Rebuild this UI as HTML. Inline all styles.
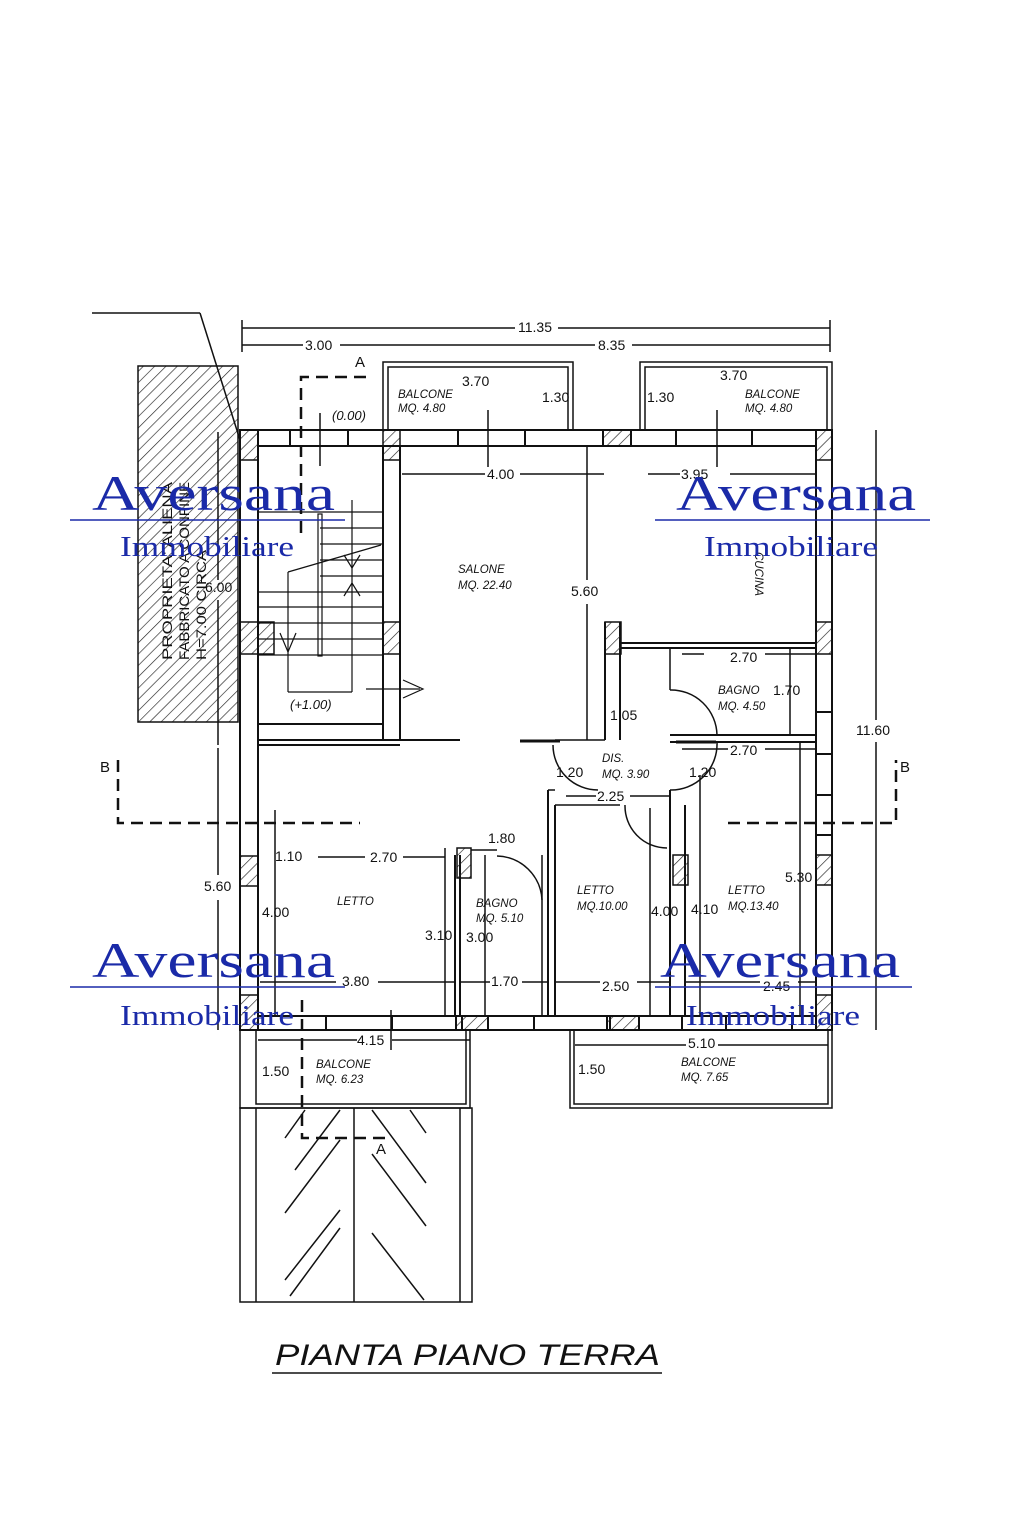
<!DOCTYPE html>
<html><head><meta charset="utf-8"><style>
html,body{margin:0;padding:0;background:#fff}
svg{display:block}
.t{font-family:"Liberation Sans",sans-serif;fill:#111}
.i{font-family:"Liberation Sans",sans-serif;font-style:italic;fill:#111}
.w{font-family:"Liberation Serif",serif;fill:#1a2aa8}
</style></head><body>
<svg width="1024" height="1536" viewBox="0 0 1024 1536" xmlns="http://www.w3.org/2000/svg">
<defs>
<pattern id="h" width="8" height="8" patternUnits="userSpaceOnUse" patternTransform="rotate(45)"><line x1="0" y1="0" x2="0" y2="8" stroke="#222" stroke-width="1.3"/></pattern>
</defs>
<g stroke="#111" fill="none" stroke-width="1.5">
<rect x="138" y="366" width="100" height="356" fill="url(#h)"/>
<line x1="92" y1="313" x2="200" y2="313"/><line x1="200" y1="313" x2="240" y2="440"/>
<line x1="242" y1="320" x2="242" y2="352"/><line x1="830" y1="320" x2="830" y2="352"/>
<line x1="242" y1="328" x2="515" y2="328"/><line x1="558" y1="328" x2="830" y2="328"/>
<line x1="242" y1="345" x2="303" y2="345"/><line x1="340" y1="345" x2="400" y2="345"/>
<line x1="400" y1="345" x2="595" y2="345"/><line x1="632" y1="345" x2="830" y2="345"/>
<rect x="240" y="430" width="18" height="600" stroke-width="2"/>
<rect x="816" y="430" width="16" height="600" stroke-width="2"/>
<line x1="240" y1="430" x2="832" y2="430" stroke-width="2"/>
<line x1="258" y1="446" x2="816" y2="446" stroke-width="2"/>
<line x1="240" y1="1030" x2="832" y2="1030" stroke-width="2"/>
<line x1="258" y1="1016" x2="816" y2="1016" stroke-width="2"/>
<rect x="258" y="430" width="32" height="16" fill="#fff" stroke-width="2"/>
<rect x="348" y="430" width="110" height="16" fill="#fff" stroke-width="2"/>
<rect x="525" y="430" width="78" height="16" fill="#fff" stroke-width="2"/>
<rect x="603" y="430" width="28" height="16" fill="url(#h)" stroke-width="2"/>
<rect x="631" y="430" width="45" height="16" fill="#fff" stroke-width="2"/>
<rect x="752" y="430" width="64" height="16" fill="#fff" stroke-width="2"/>
<rect x="383" y="430" width="17" height="30" fill="url(#h)"/>
<rect x="240" y="430" width="18" height="30" fill="url(#h)"/>
<rect x="816" y="430" width="16" height="30" fill="url(#h)"/>
<rect x="258" y="1016" width="68" height="14" fill="#fff" stroke-width="2"/>
<rect x="392" y="1016" width="70" height="14" fill="#fff" stroke-width="2"/>
<rect x="456" y="1016" width="32" height="14" fill="url(#h)" stroke-width="2"/>
<rect x="534" y="1016" width="76" height="14" fill="#fff" stroke-width="2"/>
<rect x="607" y="1016" width="32" height="14" fill="url(#h)" stroke-width="2"/>
<rect x="682" y="1016" width="44" height="14" fill="#fff" stroke-width="2"/>
<rect x="792" y="1016" width="24" height="14" fill="#fff" stroke-width="2"/>
<rect x="240" y="995" width="18" height="35" fill="url(#h)"/>
<rect x="816" y="995" width="16" height="35" fill="url(#h)"/>
<rect x="240" y="622" width="18" height="32" fill="url(#h)"/>
<rect x="240" y="856" width="18" height="30" fill="url(#h)"/>
<rect x="816" y="622" width="16" height="32" fill="url(#h)"/>
<rect x="816" y="855" width="16" height="30" fill="url(#h)"/>
<rect x="816" y="712" width="16" height="42" fill="#fff" stroke-width="2"/>
<rect x="816" y="795" width="16" height="40" fill="#fff" stroke-width="2"/>
<rect x="258" y="446" width="125" height="278" stroke-width="2"/>
<rect x="383" y="446" width="17" height="294" stroke-width="2"/>
<rect x="383" y="622" width="17" height="32" fill="url(#h)"/>
<rect x="258" y="622" width="16" height="32" fill="url(#h)"/>
<g stroke-width="1.2">
<line x1="258" y1="512" x2="383" y2="512"/><line x1="320" y1="528" x2="383" y2="528"/><line x1="320" y1="544" x2="383" y2="544"/><line x1="320" y1="560" x2="383" y2="560"/><line x1="320" y1="576" x2="383" y2="576"/>
<line x1="258" y1="592" x2="383" y2="592"/><line x1="258" y1="607" x2="383" y2="607"/><line x1="258" y1="623" x2="383" y2="623"/><line x1="258" y1="639" x2="383" y2="639"/><line x1="258" y1="655" x2="383" y2="655"/>
<rect x="318" y="514" width="4" height="142"/>
<line x1="352" y1="500" x2="352" y2="600"/><line x1="288" y1="572" x2="381" y2="545"/>
<line x1="288" y1="572" x2="288" y2="692"/><line x1="288" y1="692" x2="352" y2="692"/><line x1="352" y1="692" x2="352" y2="600"/>
<path d="M280 633 L288 652 L296 633"/><path d="M344 555 L352 568 L360 555 M344 596 L352 583 L360 596"/>
<line x1="366" y1="689" x2="420" y2="689"/><path d="M403 680 L423 689 L403 698"/>
</g>
<g stroke-width="2.5" stroke-dasharray="12,7">
<path d="M301 533 V377 H370"/><path d="M118 760 V823 H360"/><path d="M728 823 H896 V760"/><path d="M302 1000 V1138 H385"/>
</g>
<line x1="258" y1="740" x2="460" y2="740" stroke-width="2"/><line x1="258" y1="745" x2="400" y2="745" stroke-width="2"/>
<line x1="605" y1="622" x2="605" y2="740" stroke-width="2"/><line x1="620" y1="622" x2="620" y2="740" stroke-width="2"/>
<rect x="605" y="622" width="16" height="32" fill="url(#h)"/>
<line x1="621" y1="643" x2="816" y2="643" stroke-width="2"/><line x1="621" y1="648" x2="816" y2="648" stroke-width="2"/>
<line x1="670" y1="648" x2="670" y2="690"/>
<line x1="670" y1="735" x2="816" y2="735" stroke-width="2"/><line x1="670" y1="742" x2="816" y2="742" stroke-width="2"/>
<line x1="555" y1="740" x2="605" y2="740"/>
<line x1="548" y1="790" x2="548" y2="1016" stroke-width="2"/><line x1="555" y1="805" x2="555" y2="1016" stroke-width="2"/>
<line x1="548" y1="790" x2="555" y2="790"/><line x1="555" y1="805" x2="620" y2="805"/>
<line x1="670" y1="790" x2="670" y2="1016" stroke-width="2"/><line x1="685" y1="805" x2="685" y2="1016" stroke-width="2"/>
<rect x="673" y="855" width="15" height="30" fill="url(#h)"/>
<line x1="455" y1="855" x2="455" y2="1016" stroke-width="2"/><line x1="460" y1="855" x2="460" y2="1016" stroke-width="2"/>
<rect x="457" y="848" width="14" height="30" fill="url(#h)"/><line x1="471" y1="850" x2="497" y2="850"/>
<line x1="542" y1="855" x2="542" y2="1016"/>
<path d="M553 745 A45 45 0 0 0 598 790"/><path d="M670 690 A46 46 0 0 1 717 735"/><path d="M670 790 A46 46 0 0 0 717 742"/>
<path d="M625 805 A42 42 0 0 0 667 848"/><path d="M497 856 A46 46 0 0 1 542 900"/>
<line x1="520" y1="741" x2="560" y2="741" stroke-width="3"/><line x1="676" y1="742" x2="716" y2="742" stroke-width="3"/>
<rect x="383" y="362" width="190" height="68"/><rect x="388" y="367" width="180" height="63"/>
<rect x="640" y="362" width="192" height="68"/><rect x="645" y="367" width="182" height="63"/>
<rect x="240" y="1030" width="230" height="78"/><rect x="256" y="1030" width="210" height="74"/>
<rect x="570" y="1030" width="262" height="78"/><rect x="574" y="1030" width="254" height="74"/>
<rect x="240" y="1108" width="232" height="194"/><line x1="256" y1="1108" x2="256" y2="1302"/><line x1="460" y1="1108" x2="460" y2="1302"/><line x1="354" y1="1108" x2="354" y2="1302"/>
<line x1="285" y1="1138" x2="305" y2="1110"/><line x1="285" y1="1213" x2="340" y2="1140"/><line x1="285" y1="1280" x2="340" y2="1210"/><line x1="290" y1="1296" x2="340" y2="1228"/>
<line x1="340" y1="1110" x2="295" y2="1170"/>
<line x1="372" y1="1110" x2="426" y2="1183"/><line x1="372" y1="1154" x2="426" y2="1226"/><line x1="372" y1="1233" x2="424" y2="1300"/><line x1="410" y1="1110" x2="426" y2="1133"/>
<line x1="402" y1="474" x2="485" y2="474"/><line x1="520" y1="474" x2="604" y2="474"/><line x1="648" y1="474" x2="680" y2="474"/><line x1="730" y1="474" x2="816" y2="474"/>
<line x1="587" y1="446" x2="587" y2="580"/><line x1="587" y1="604" x2="587" y2="740"/>
<line x1="218" y1="432" x2="218" y2="580"/><line x1="218" y1="600" x2="218" y2="745"/>
<line x1="218" y1="748" x2="218" y2="875"/><line x1="218" y1="900" x2="218" y2="1030"/>
<line x1="876" y1="430" x2="876" y2="720"/><line x1="876" y1="742" x2="876" y2="1030"/>
<line x1="318" y1="857" x2="365" y2="857"/><line x1="403" y1="857" x2="445" y2="857"/>
<line x1="275" y1="810" x2="275" y2="1016"/><line x1="445" y1="848" x2="445" y2="1016"/><line x1="485" y1="855" x2="485" y2="1016"/>
<line x1="650" y1="808" x2="650" y2="1016"/><line x1="700" y1="775" x2="700" y2="1016"/><line x1="800" y1="742" x2="800" y2="1016"/>
<line x1="790" y1="648" x2="790" y2="735"/>
<line x1="260" y1="982" x2="336" y2="982"/><line x1="378" y1="982" x2="455" y2="982"/><line x1="460" y1="982" x2="490" y2="982"/><line x1="522" y1="982" x2="548" y2="982"/>
<line x1="555" y1="982" x2="600" y2="982"/><line x1="637" y1="982" x2="670" y2="982"/><line x1="685" y1="982" x2="760" y2="982"/><line x1="798" y1="982" x2="816" y2="982"/>
<line x1="258" y1="1040" x2="357" y2="1040"/><line x1="392" y1="1040" x2="470" y2="1040"/>
<line x1="575" y1="1045" x2="686" y2="1045"/><line x1="718" y1="1045" x2="828" y2="1045"/>
<line x1="391" y1="1010" x2="391" y2="1050"/>
<line x1="682" y1="654" x2="704" y2="654"/><line x1="765" y1="654" x2="816" y2="654"/>
<line x1="682" y1="749" x2="728" y2="749"/><line x1="765" y1="749" x2="816" y2="749"/>
<line x1="566" y1="796" x2="596" y2="796"/><line x1="630" y1="796" x2="670" y2="796"/>
<line x1="717" y1="410" x2="717" y2="467"/><line x1="488" y1="410" x2="488" y2="467"/><line x1="320" y1="413" x2="320" y2="466"/>
</g>
<g class="t" font-size="14">
<text x="518" y="332">11.35</text><text x="305" y="350">3.00</text><text x="598" y="350">8.35</text>
<text x="462" y="386">3.70</text><text x="720" y="380">3.70</text>
<text x="542" y="402">1.30</text><text x="647" y="402">1.30</text>
<text x="487" y="479">4.00</text><text x="681" y="479">3.95</text>
<text x="571" y="596">5.60</text><text x="205" y="592">6.00</text>
<text x="856" y="735">11.60</text>
<text x="730" y="662">2.70</text><text x="773" y="695">1.70</text><text x="730" y="755">2.70</text>
<text x="610" y="720">1.05</text><text x="556" y="777">1.20</text><text x="689" y="777">1.20</text><text x="597" y="801">2.25</text>
<text x="204" y="891">5.60</text><text x="275" y="861">1.10</text><text x="370" y="862">2.70</text>
<text x="488" y="843">1.80</text><text x="262" y="917">4.00</text>
<text x="425" y="940">3.10</text><text x="466" y="942">3.00</text>
<text x="651" y="916">4.00</text><text x="691" y="914">4.10</text><text x="785" y="882">5.30</text>
<text x="342" y="986">3.80</text><text x="491" y="986">1.70</text><text x="602" y="991">2.50</text><text x="763" y="991">2.45</text>
<text x="357" y="1045">4.15</text><text x="688" y="1048">5.10</text>
<text x="262" y="1076">1.50</text><text x="578" y="1074">1.50</text>
<text x="355" y="367" font-size="15">A</text><text x="376" y="1154" font-size="15">A</text>
<text x="100" y="772" font-size="15">B</text><text x="900" y="772" font-size="15">B</text>
</g>
<g class="i" font-size="11.5">
<text x="398" y="398">BALCONE</text><text x="398" y="412">MQ. 4.80</text>
<text x="745" y="398">BALCONE</text><text x="745" y="412">MQ. 4.80</text>
<text x="332" y="420" font-size="13">(0.00)</text><text x="290" y="709" font-size="13">(+1.00)</text>
<text x="458" y="573">SALONE</text><text x="458" y="589">MQ. 22.40</text>
<text x="718" y="694">BAGNO</text><text x="718" y="710">MQ. 4.50</text>
<text x="602" y="762">DIS.</text><text x="602" y="778">MQ. 3.90</text>
<text x="337" y="905">LETTO</text>
<text x="476" y="907">BAGNO</text><text x="476" y="922">MQ. 5.10</text>
<text x="577" y="894">LETTO</text><text x="577" y="910">MQ.10.00</text>
<text x="728" y="894">LETTO</text><text x="728" y="910">MQ.13.40</text>
<text x="316" y="1068">BALCONE</text><text x="316" y="1083">MQ. 6.23</text>
<text x="681" y="1066">BALCONE</text><text x="681" y="1081">MQ. 7.65</text>
<text transform="translate(755,552) rotate(90)">CUCINA</text>
</g>
<g class="t" font-size="14" transform="rotate(-90)">
<text x="-660" y="172" textLength="178" lengthAdjust="spacingAndGlyphs">PROPRIETA'  ALIENA</text>
<text x="-660" y="189" textLength="178" lengthAdjust="spacingAndGlyphs">FABBRICATO A CONFINE</text>
<text x="-660" y="206" textLength="110" lengthAdjust="spacingAndGlyphs">H=7.00 CIRCA</text>
</g>
<text class="i" x="275" y="1365" font-size="30" textLength="385" lengthAdjust="spacingAndGlyphs">PIANTA PIANO TERRA</text>
<line x1="272" y1="1373" x2="662" y2="1373" stroke="#111" stroke-width="1.5"/>
<g class="w">
<text x="92" y="510" font-size="50" textLength="243" lengthAdjust="spacingAndGlyphs">Aversana</text>
<text x="120" y="556" font-size="28" textLength="174" lengthAdjust="spacingAndGlyphs">Immobiliare</text>
<text x="676" y="510" font-size="50" textLength="240" lengthAdjust="spacingAndGlyphs">Aversana</text>
<text x="704" y="556" font-size="28" textLength="174" lengthAdjust="spacingAndGlyphs">Immobiliare</text>
<text x="92" y="977" font-size="50" textLength="243" lengthAdjust="spacingAndGlyphs">Aversana</text>
<text x="120" y="1025" font-size="28" textLength="174" lengthAdjust="spacingAndGlyphs">Immobiliare</text>
<text x="660" y="977" font-size="50" textLength="240" lengthAdjust="spacingAndGlyphs">Aversana</text>
<text x="686" y="1025" font-size="28" textLength="174" lengthAdjust="spacingAndGlyphs">Immobiliare</text>
</g>
<g stroke="#1a2aa8" stroke-width="1.5">
<line x1="70" y1="520" x2="345" y2="520"/><line x1="655" y1="520" x2="930" y2="520"/>
<line x1="70" y1="987" x2="345" y2="987"/><line x1="655" y1="987" x2="912" y2="987"/>
</g>
</svg>
</body></html>
